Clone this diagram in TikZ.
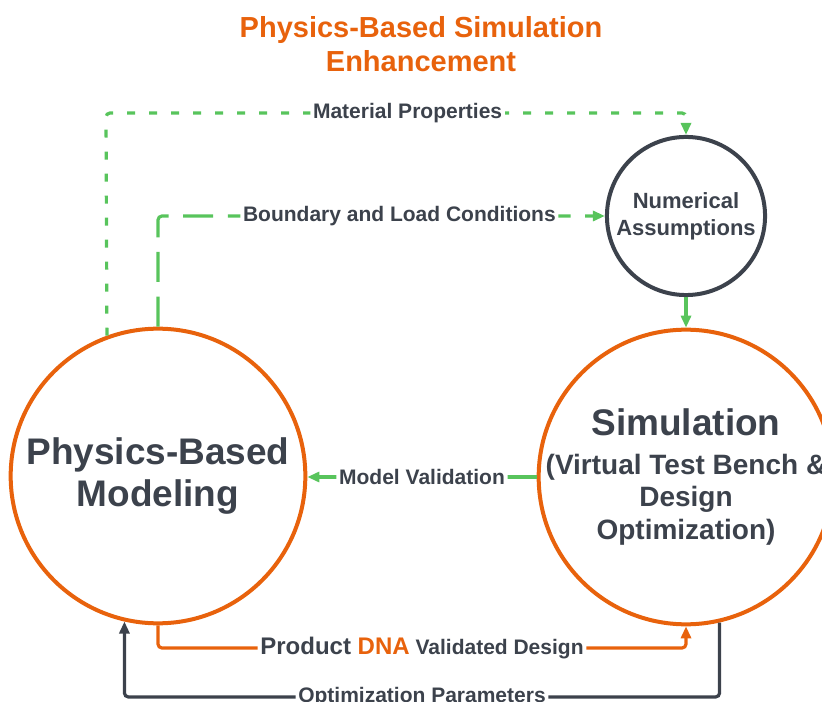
\documentclass[tikz,border=0pt]{standalone}
\usepackage{fontspec}
\setmainfont{Liberation Sans}
\usetikzlibrary{arrows.meta}
\definecolor{lucidorange}{RGB}{232,98,12}
\definecolor{lucidgreen}{RGB}{88,196,92}
\definecolor{lucidgray}{RGB}{60,66,76}
\newcommand{\sz}[2]{\fontsize{#1}{#2}\selectfont\bfseries}
\tikzset{>={Triangle[length=9pt,width=7.5pt]}}
\tikzset{
  bigcirc/.style = {circle, draw=lucidorange, line width=3pt, minimum size=221pt,
    align=center, text=lucidgray},
  flow/.style = {line width=2.4pt, rounded corners=3pt},
  lbl/.style = {fill=white, inner sep=2pt, text=lucidgray, font=\sz{15.75}{18}}
}

\begin{document}
\begin{tikzpicture}[x=0.75pt,y=-0.75pt]
  \useasboundingbox (0,0) rectangle (822,702);
  \node[text=lucidorange, align=center, font=\sz{21.75}{25.5}] (title) at (421,44)
    {Physics-Based Simulation\\Enhancement};
  \node[bigcirc, font=\sz{27.75}{31.5}] (phys) at (158,476) {Physics-Based\\Modeling};
  \node[bigcirc, inner sep=-8pt, font=\sz{21}{24.5}] (sim) at (686,477)
    {{\sz{27.75}{31.5}Simulation}\\[4.5pt](Virtual Test Bench \&\\Design\\Optimization)};
  \node[circle, draw=lucidgray, line width=3pt, minimum size=117pt, align=center,
    text=lucidgray, font=\sz{16.5}{20}] (numer) at (686,216) {Numerical\\Assumptions};
  \coordinate (matL) at (106,113);
  \coordinate (matR) at (numer.north |- matL);
  \draw[flow, ->, lucidgreen, dash pattern=on 6pt off 10.5pt] (phys.110.6) -- (matL)
    -- node[lbl, pos=.52] {Material Properties} (matR) -- (numer.north);
  \coordinate (bndC) at (phys.north |- numer.west);
  \draw[flow, ->, lucidgreen, dash pattern=on 22.5pt off 11pt] (phys.north) -- (bndC)
    -- node[lbl, pos=.54] {Boundary and Load Conditions} (numer.west);
  \draw[flow, ->, lucidgreen] (numer.south) -- (sim.north);
  \draw[flow, ->, lucidgreen] (sim.west) -- node[lbl] {Model Validation} (sim.west -| phys.east);
  \coordinate (dnaR) at (sim.south |- 0,648);
  \coordinate (dnaL) at (phys.south |- dnaR);
  \draw[flow, ->, lucidorange] (phys.south) -- (dnaL)
    -- node[lbl] {{\sz{18}{20}Product \textcolor{lucidorange}{DNA}} Validated Design} (dnaR)
    -- (sim.south);
  \coordinate (optR) at (sim.-77.4 |- 0,697);
  \coordinate (optL) at (phys.-103.3 |- optR);
  \draw[flow, ->, lucidgray] (sim.-77.4) -- (optR)
    -- node[lbl] {Optimization Parameters} (optL) -- (phys.-103.3);
\end{tikzpicture}
\end{document}
